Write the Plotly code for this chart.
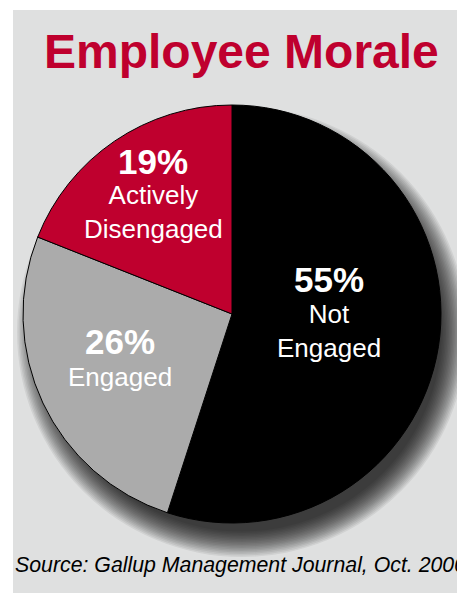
import plotly.graph_objects as go

# ---- data ----
categories = ["Not Engaged", "Engaged", "Actively Disengaged"]
display_names = ["Not<br>Engaged", "Engaged", "Actively<br>Disengaged"]
values = [55, 26, 19]
colors = ["#000000", "#ababab", "#bf002e"]
title_text = "Employee Morale"
source_text = "Source: Gallup Management Journal, Oct. 2000"

W, H = 457, 593


def px(x):
    return x / W


def py(y):
    return 1 - y / H


# pie geometry (pixels)
cx, cy, r = 232, 314, 209

fig = go.Figure(
    go.Pie(
        labels=categories,
        values=values,
        sort=False,
        direction="clockwise",
        rotation=0,
        marker=dict(colors=colors, line=dict(color="#000000", width=1)),
        textinfo="none",
        hoverinfo="label+percent",
        showlegend=False,
        domain=dict(x=[px(cx - r), px(cx + r)], y=[py(cy + r), py(cy - r)]),
    )
)

shapes = [
    dict(type="rect", xref="paper", yref="paper", x0=px(13), x1=1.0, y0=0.0, y1=py(10),
         fillcolor="#dfe0e0", line=dict(width=0), layer="below")
]
# soft drop shadow (lower right)
scx, scy = cx + 10, cy + 18
for i in range(18):
    rr = r + 16 - i * 1.5
    shapes.append(dict(type="circle", xref="paper", yref="paper",
                       x0=px(scx - rr), x1=px(scx + rr), y0=py(scy + rr), y1=py(scy - rr),
                       fillcolor="rgba(0,0,0,0.065)", line=dict(width=0), layer="below"))

font_family = "Liberation Sans, Arial, Helvetica, sans-serif"

# label placement (pixels): pct center, name center
pct_pos = [(328.5, 280), (120, 341), (153, 161)]
name_pos = [(328.5, 331), (120, 377), (153, 212)]

annotations = []
for v, nm, (ax, ay), (bx, by) in zip(values, display_names, pct_pos, name_pos):
    annotations.append(dict(x=px(ax), y=py(ay), xref="paper", yref="paper",
                            text=f"<b>{v}%</b>", showarrow=False,
                            xanchor="center", yanchor="middle",
                            font=dict(family=font_family, size=35, color="#ffffff")))
    annotations.append(dict(x=px(bx), y=py(by), xref="paper", yref="paper",
                            text=nm, showarrow=False, align="center",
                            xanchor="center", yanchor="middle",
                            font=dict(family=font_family, size=26, color="#ffffff")))

annotations.append(dict(x=px(241.5), y=py(51), xref="paper", yref="paper",
                        text=f"<b>{title_text}</b>", showarrow=False,
                        xanchor="center", yanchor="middle",
                        font=dict(family=font_family, size=48, color="#bf002e")))
annotations.append(dict(x=px(13), y=py(565), xref="paper", yref="paper",
                        text=f"<i>{source_text}</i>", showarrow=False,
                        xanchor="left", yanchor="middle",
                        font=dict(family=font_family, size=21.3, color="#000000")))

fig.update_layout(
    width=W, height=H,
    margin=dict(l=0, r=0, t=0, b=0),
    paper_bgcolor="#ffffff",
    plot_bgcolor="#ffffff",
    shapes=shapes,
    annotations=annotations,
)

fig.write_html("out.html")
